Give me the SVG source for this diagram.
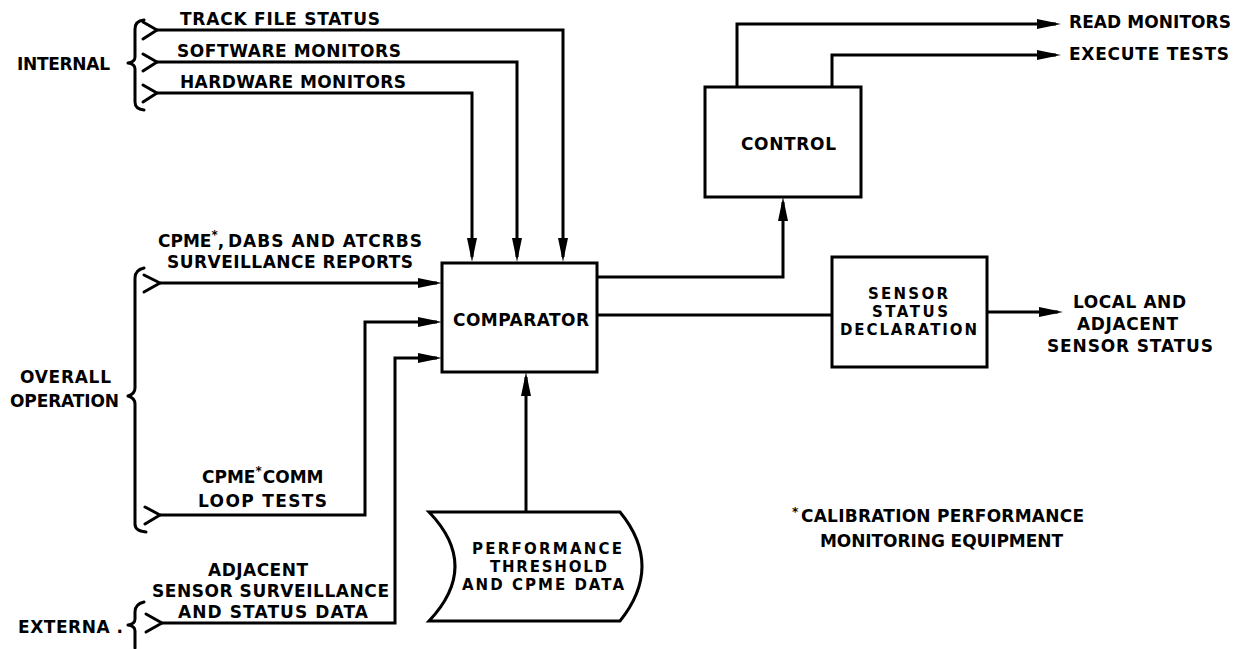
<svg xmlns="http://www.w3.org/2000/svg" width="1243" height="649" viewBox="0 0 1243 649">
<style>
.t{font-family:"DejaVu Sans","Liberation Sans",Arial,sans-serif;font-weight:bold;font-size:17px;fill:#000}
.m{font-family:"DejaVu Sans","Liberation Sans",Arial,sans-serif;font-weight:bold;font-size:15px;fill:#000}
.s{font-family:"DejaVu Sans","Liberation Sans",Arial,sans-serif;font-weight:bold;font-size:12px;fill:#000}
.box{fill:#fff;stroke:#000;stroke-width:3}
.ln{fill:none;stroke:#000;stroke-width:3;stroke-linejoin:miter}
.ar{fill:none;stroke:#000;stroke-width:3;marker-end:url(#ah)}
.br{fill:none;stroke:#000;stroke-width:3;stroke-linecap:round;stroke-linejoin:round}
</style>
<defs>
<marker id="ah" markerUnits="userSpaceOnUse" markerWidth="26" markerHeight="12" viewBox="0 0 26 12" refX="19" refY="6" orient="auto">
<path d="M0,1 L24,6 L0,11 Z" fill="#000"/>
</marker>
</defs>
<rect width="1243" height="649" fill="#fff"/>

<g id="connectors">
<path class="ar" d="M157,30 H563 V257"/>
<path class="ar" d="M157,62 H517 V257"/>
<path class="ar" d="M157,93 H472 V257"/>
<path class="ar" d="M160,283 H437"/>
<path class="ar" d="M160,515 H365 V322 H437"/>
<path class="ar" d="M162,623 H395 V358 H437"/>
<path class="ar" d="M526,512 V377"/>
<path class="ar" d="M597,277 H783 V202"/>
<path class="ln" d="M597,315 H832"/>
<path class="ar" d="M987,312 H1058"/>
<path class="ar" d="M737,87 V24 H1056"/>
<path class="ar" d="M832,87 V55 H1056"/>
</g>

<g id="internal-group">
<path class="br" d="M144,20 Q135,21 135,29 L135,57 Q135,62 128,63 Q135,64 135,69 L135,102 Q135,109 144,110"/>
<path class="br" d="M143,22 L157,30 L143,39"/>
<path class="br" d="M143,54 L157,62 L143,71"/>
<path class="br" d="M143,85 L157,93 L143,102"/>
<text class="t" x="17" y="70" textLength="93">INTERNAL</text>
<text class="t" x="180" y="25" textLength="200">TRACK FILE STATUS</text>
<text class="t" x="177" y="57" textLength="224">SOFTWARE MONITORS</text>
<text class="t" x="180" y="88" textLength="226">HARDWARE MONITORS</text>
</g>

<g id="overall-group">
<path class="br" d="M144,268 Q135,270 135,278 L135,388 Q135,394 128,396 Q135,398 135,404 L135,524 Q135,531 146,532"/>
<path class="br" d="M144,275 L160,283 L144,292"/>
<path class="br" d="M145,507 L160,515 L145,524"/>
<text class="t" x="20" y="383" textLength="91">OVERALL</text>
<text class="t" x="10" y="407" textLength="109">OPERATION</text>
<text class="t" x="158" y="247">CPME<tspan class="s" dy="-8">*</tspan><tspan dy="8">,</tspan></text>
<text class="t" x="228" y="247" textLength="194">DABS AND ATCRBS</text>
<text class="t" x="167" y="268" textLength="246">SURVEILLANCE REPORTS</text>
<text class="t" x="202" y="483">CPME<tspan class="s" dy="-8">*</tspan><tspan dy="8" dx="1">COMM</tspan></text>
<text class="t" x="198" y="507" textLength="129">LOOP TESTS</text>
</g>

<g id="external-group">
<path class="br" d="M144,602 Q135,604 135,612 L135,619 Q135,624 128,625 Q135,626 135,631 L135,648"/>
<path class="br" d="M146,614 L162,623 L146,632"/>
<text class="t" x="18" y="633" textLength="105">EXTERNA .</text>
<text class="t" x="208" y="576" textLength="100">ADJACENT</text>
<text class="t" x="152" y="597" textLength="237">SENSOR SURVEILLANCE</text>
<text class="t" x="178" y="618" textLength="190">AND STATUS DATA</text>
</g>

<g id="comparator">
<rect class="box" x="442" y="263" width="155" height="109"/>
<text class="t" x="453" y="326" textLength="136">COMPARATOR</text>
</g>

<g id="control">
<rect class="box" x="705" y="87" width="156" height="110"/>
<text class="t" x="741" y="150" textLength="95">CONTROL</text>
</g>

<g id="sensor-status-declaration">
<rect class="box" x="832" y="257" width="155" height="110"/>
<text class="m" x="868" y="299" textLength="80">SENSOR</text>
<text class="m" x="872" y="317" textLength="76">STATUS</text>
<text class="m" x="840" y="335" textLength="137">DECLARATION</text>
</g>

<g id="performance-data">
<path class="box" d="M429,512 H620 Q664,566 620,621 H429 Q481,566 429,512 Z" stroke-width="2.5"/>
<text class="m" x="472" y="554" textLength="150">PERFORMANCE</text>
<text class="m" x="490" y="572" textLength="117">THRESHOLD</text>
<text class="m" x="462" y="590" textLength="162">AND CPME DATA</text>
</g>

<g id="outputs">
<text class="t" x="1069" y="28" textLength="162">READ MONITORS</text>
<text class="t" x="1069" y="60" textLength="160">EXECUTE TESTS</text>
<text class="t" x="1073" y="308" textLength="113">LOCAL AND</text>
<text class="t" x="1077" y="330" textLength="101">ADJACENT</text>
<text class="t" x="1047" y="352" textLength="166">SENSOR STATUS</text>
</g>

<g id="footnote">
<text class="s" x="792" y="516">*</text>
<text class="t" x="801" y="522" textLength="283">CALIBRATION PERFORMANCE</text>
<text class="t" x="820" y="547" textLength="243">MONITORING EQUIPMENT</text>
</g>
</svg>
